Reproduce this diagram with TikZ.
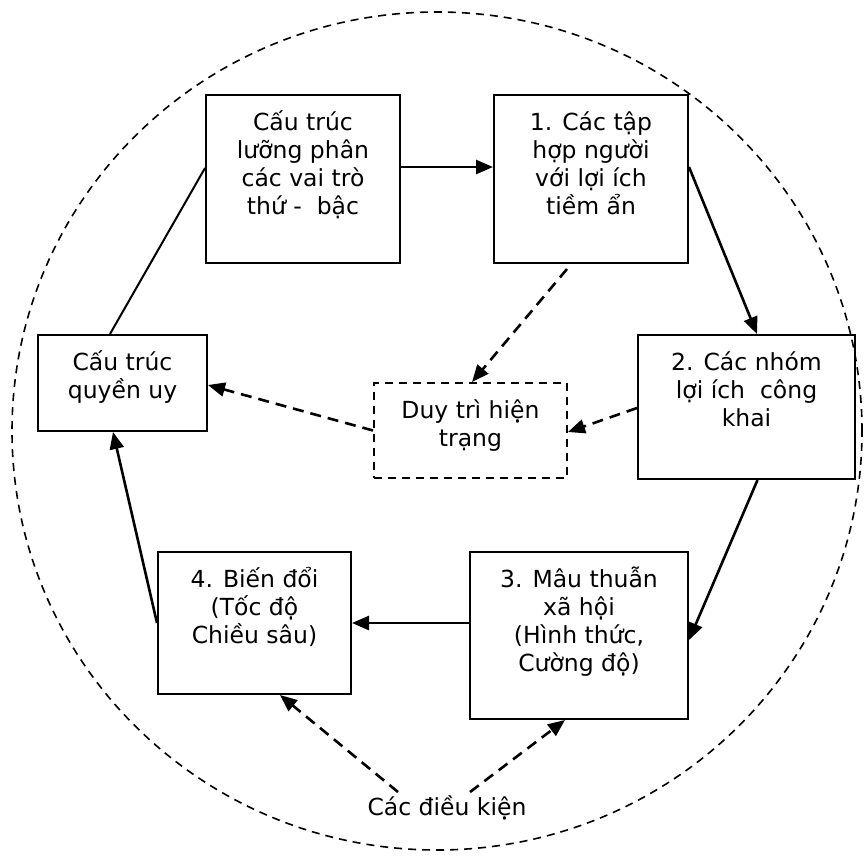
\documentclass[tikz,border=0pt]{standalone}
\usepackage{fontspec}
\setmainfont{DejaVu Sans}
\usetikzlibrary{arrows.meta,calc}
\newcommand\bxt[3]{\parbox[c][#2][t]{#1}{\centering\lineskiplimit=-20pt\rule{0pt}{35pt}#3\par}}
\begin{document}
\begin{tikzpicture}[x=1pt,y=-1pt,
  txt/.style={font=\fontsize{23.5}{28.3}\selectfont},
  bx/.style={draw, line width=2pt, inner sep=0pt, txt},
  dbx/.style={bx, dash pattern=on 8pt off 6pt},
  arr/.style={line width=2.6pt, -{Triangle[length=17pt,width=14pt]}},
  darr/.style={arr, dash pattern=on 11pt off 7pt},
  plain/.style={line width=2pt},
  ring/.style={draw, line width=1.6pt, dash pattern=on 8pt off 6pt}]
\useasboundingbox (0,0) rectangle (864,855);
\draw[ring] (437,431) ellipse [x radius=425pt, y radius=419pt];

\node[bx, minimum width=194pt, minimum height=168pt] (A) at (303,179)
  {\bxt{194pt}{168pt}{Cấu trúc\\lưỡng phân\\các vai trò\\thứ - \ bậc}};
\node[bx, minimum width=194pt, minimum height=168pt] (B) at (591,179)
  {\bxt{194pt}{168pt}{1. Các tập\\hợp người\\với lợi ích\\tiềm ẩn}};
\node[bx, minimum width=217pt, minimum height=144pt] (C) at (746.5,407)
  {\bxt{217pt}{144pt}{2. Các nhóm\\lợi ích \ công\\khai}};
\node[bx, minimum width=169pt, minimum height=96pt] (D) at (122.5,383)
  {\bxt{169pt}{96pt}{Cấu trúc\\quyền uy}};
\node[dbx, minimum width=193pt, minimum height=95pt] (E) at (470.5,430.5)
  {\bxt{193pt}{95pt}{Duy trì hiện\\trạng}};
\node[bx, minimum width=218pt, minimum height=167pt] (F) at (579,635.5)
  {\bxt{218pt}{167pt}{3. Mâu thuẫn\\xã hội\\(Hình thức,\\Cường độ)}};
\node[bx, minimum width=193pt, minimum height=142pt] (G) at (254.5,623)
  {\bxt{193pt}{142pt}{4. Biến đổi\\(Tốc độ\\Chiều sâu)}};
\node[txt, inner sep=0pt, anchor=base] (K) at (447,815) {Các điều kiện};
\coordinate (K1) at (398,792);
\coordinate (K2) at (470,792);

\draw[arr] ([yshift=12pt]A.east) -- ([yshift=12pt]B.west);
\draw[arr] ([yshift=12pt]B.east) -- ([xshift=10.5pt]C.north);
\draw[arr] ([xshift=11pt]C.south) -- ([yshift=-4.5pt]F.east);
\draw[arr] (G.east -| F.west) -- (G.east);
\draw[arr] (G.west) -- ([xshift=-9.5pt]D.south);
\draw[plain] ([xshift=-12.5pt]D.north) -- ([yshift=11pt]A.west);
\draw[darr] ([xshift=-24pt,yshift=-5pt]B.south) -- ([xshift=1.5pt]E.north);
\draw[darr] ([yshift=-1pt]C.west) -- ([yshift=-1.5pt]E.east);
\draw[darr] (E.west) -- ([yshift=-2pt]D.east);
\draw[darr] (K1) -- ([xshift=25.5pt]G.south);
\draw[darr] (K2) -- ([xshift=-14pt]F.south);
\end{tikzpicture}
\end{document}
